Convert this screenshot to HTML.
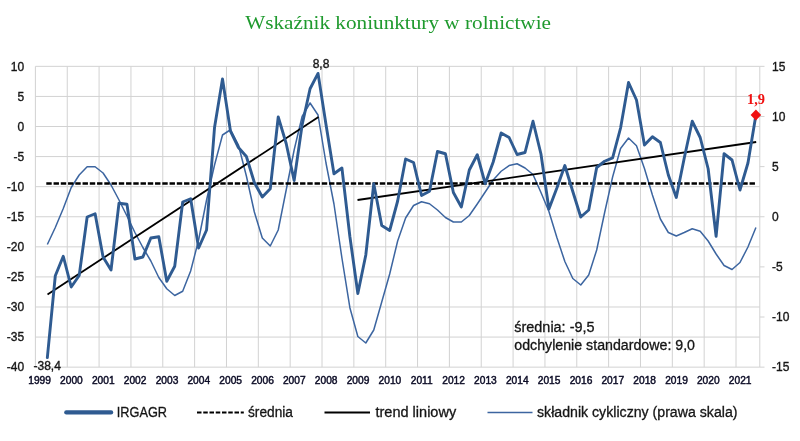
<!DOCTYPE html>
<html><head><meta charset="utf-8"><title>Wskaźnik koniunktury w rolnictwie</title>
<style>
html,body{margin:0;padding:0;background:#fff;}
body{width:800px;height:441px;overflow:hidden;position:relative;font-family:"Liberation Sans",sans-serif;}
svg{position:absolute;left:0;top:0;display:block;}
.title{font-family:"Liberation Serif",serif;font-size:19px;fill:#1f9a2e;}
.ax text{font-family:"Liberation Sans",sans-serif;font-size:12px;fill:#161616;stroke:#161616;stroke-width:0.35;}
.xl text{font-family:"Liberation Sans",sans-serif;font-size:10.2px;fill:#0c0c26;stroke:#0c0c26;stroke-width:0.45;}
.grid line{stroke:#d2d2d2;stroke-width:1;}
.note{font-family:"Liberation Sans",sans-serif;font-size:14px;fill:#151515;stroke:#151515;stroke-width:0.3;}
.leg{font-family:"Liberation Sans",sans-serif;font-size:14px;}
.leg text{fill:#151515;stroke:#151515;stroke-width:0.3;}
</style></head><body>
<svg width="800" height="441" viewBox="0 0 800 441">
<rect width="800" height="441" fill="#fff"/>
<text class="title" x="245.2" y="28.8" textLength="305.8" lengthAdjust="spacingAndGlyphs">Wskaźnik koniunktury w rolnictwie</text>
<g class="grid"><line x1="35.4" y1="66.35" x2="759.8" y2="66.35"/><line x1="35.4" y1="96.43" x2="759.8" y2="96.43"/><line x1="35.4" y1="126.51" x2="759.8" y2="126.51"/><line x1="35.4" y1="156.59" x2="759.8" y2="156.59"/><line x1="35.4" y1="186.67" x2="759.8" y2="186.67"/><line x1="35.4" y1="216.75" x2="759.8" y2="216.75"/><line x1="35.4" y1="246.83" x2="759.8" y2="246.83"/><line x1="35.4" y1="276.91" x2="759.8" y2="276.91"/><line x1="35.4" y1="306.99" x2="759.8" y2="306.99"/><line x1="35.4" y1="337.07" x2="759.8" y2="337.07"/><line x1="35.4" y1="367.15" x2="759.8" y2="367.15"/><line x1="35.40" y1="66.35" x2="35.40" y2="367.15"/><line x1="67.25" y1="66.35" x2="67.25" y2="367.15"/><line x1="99.09" y1="66.35" x2="99.09" y2="367.15"/><line x1="130.94" y1="66.35" x2="130.94" y2="367.15"/><line x1="162.78" y1="66.35" x2="162.78" y2="367.15"/><line x1="194.63" y1="66.35" x2="194.63" y2="367.15"/><line x1="226.48" y1="66.35" x2="226.48" y2="367.15"/><line x1="258.32" y1="66.35" x2="258.32" y2="367.15"/><line x1="290.17" y1="66.35" x2="290.17" y2="367.15"/><line x1="322.01" y1="66.35" x2="322.01" y2="367.15"/><line x1="353.86" y1="66.35" x2="353.86" y2="367.15"/><line x1="385.71" y1="66.35" x2="385.71" y2="367.15"/><line x1="417.55" y1="66.35" x2="417.55" y2="367.15"/><line x1="449.40" y1="66.35" x2="449.40" y2="367.15"/><line x1="481.24" y1="66.35" x2="481.24" y2="367.15"/><line x1="513.09" y1="66.35" x2="513.09" y2="367.15"/><line x1="544.94" y1="66.35" x2="544.94" y2="367.15"/><line x1="576.78" y1="66.35" x2="576.78" y2="367.15"/><line x1="608.63" y1="66.35" x2="608.63" y2="367.15"/><line x1="640.47" y1="66.35" x2="640.47" y2="367.15"/><line x1="672.32" y1="66.35" x2="672.32" y2="367.15"/><line x1="704.17" y1="66.35" x2="704.17" y2="367.15"/><line x1="736.01" y1="66.35" x2="736.01" y2="367.15"/><line x1="759.8" y1="66.35" x2="759.8" y2="367.15"/><line x1="759.8" y1="66.35" x2="764.5" y2="66.35"/><line x1="759.8" y1="116.48" x2="764.5" y2="116.48"/><line x1="759.8" y1="166.62" x2="764.5" y2="166.62"/><line x1="759.8" y1="216.75" x2="764.5" y2="216.75"/><line x1="759.8" y1="266.88" x2="764.5" y2="266.88"/><line x1="759.8" y1="317.01" x2="764.5" y2="317.01"/><line x1="759.8" y1="367.15" x2="764.5" y2="367.15"/></g>
<g class="ax"><text x="24.2" y="70.5" text-anchor="end">10</text><text x="24.2" y="100.6" text-anchor="end">5</text><text x="24.2" y="130.7" text-anchor="end">0</text><text x="24.2" y="160.8" text-anchor="end">-5</text><text x="24.2" y="190.9" text-anchor="end">-10</text><text x="24.2" y="220.9" text-anchor="end">-15</text><text x="24.2" y="251.0" text-anchor="end">-20</text><text x="24.2" y="281.1" text-anchor="end">-25</text><text x="24.2" y="311.2" text-anchor="end">-30</text><text x="24.2" y="341.3" text-anchor="end">-35</text><text x="24.2" y="371.3" text-anchor="end">-40</text><text x="772" y="70.5">15</text><text x="772" y="120.7">10</text><text x="772" y="170.8">5</text><text x="772" y="220.9">0</text><text x="772" y="271.1">-5</text><text x="772" y="321.2">-10</text><text x="772" y="371.3">-15</text></g>
<g class="xl"><text x="39.6" y="384.2" text-anchor="middle">1999</text><text x="71.4" y="384.2" text-anchor="middle">2000</text><text x="103.3" y="384.2" text-anchor="middle">2001</text><text x="135.1" y="384.2" text-anchor="middle">2002</text><text x="167.0" y="384.2" text-anchor="middle">2003</text><text x="198.8" y="384.2" text-anchor="middle">2004</text><text x="230.7" y="384.2" text-anchor="middle">2005</text><text x="262.5" y="384.2" text-anchor="middle">2006</text><text x="294.3" y="384.2" text-anchor="middle">2007</text><text x="326.2" y="384.2" text-anchor="middle">2008</text><text x="358.0" y="384.2" text-anchor="middle">2009</text><text x="389.9" y="384.2" text-anchor="middle">2010</text><text x="421.7" y="384.2" text-anchor="middle">2011</text><text x="453.6" y="384.2" text-anchor="middle">2012</text><text x="485.4" y="384.2" text-anchor="middle">2013</text><text x="517.3" y="384.2" text-anchor="middle">2014</text><text x="549.1" y="384.2" text-anchor="middle">2015</text><text x="581.0" y="384.2" text-anchor="middle">2016</text><text x="612.8" y="384.2" text-anchor="middle">2017</text><text x="644.7" y="384.2" text-anchor="middle">2018</text><text x="676.5" y="384.2" text-anchor="middle">2019</text><text x="708.3" y="384.2" text-anchor="middle">2020</text><text x="740.2" y="384.2" text-anchor="middle">2021</text></g>
<polyline points="47.34,244.50 55.30,227.50 63.27,208.50 71.23,187.50 79.19,175.00 87.15,166.75 95.11,166.75 103.07,173.00 111.03,185.00 119.00,200.00 126.96,216.00 134.92,232.50 142.88,247.50 150.84,261.00 158.80,277.50 166.76,288.75 174.73,295.50 182.69,291.25 190.65,271.00 198.61,240.00 206.57,200.00 214.53,165.00 222.50,135.00 230.46,129.75 238.42,145.00 246.38,176.00 254.34,212.00 262.30,238.00 270.26,246.00 278.23,230.00 286.19,190.00 294.15,150.00 302.11,116.50 310.07,103.00 318.03,115.00 325.99,163.00 333.96,204.00 341.92,258.00 349.88,307.70 357.84,336.50 365.80,343.00 373.76,330.00 381.73,302.00 389.69,274.00 397.65,241.00 405.61,218.00 413.57,205.50 421.53,201.75 429.49,203.75 437.46,210.00 445.42,217.50 453.38,222.00 461.34,222.00 469.30,215.50 477.26,204.00 485.22,192.00 493.19,180.00 501.15,171.25 509.11,165.60 517.07,163.75 525.03,168.00 532.99,174.50 540.96,192.50 548.92,211.50 556.88,237.50 564.84,261.50 572.80,278.50 580.76,285.00 588.72,275.00 596.69,250.00 604.65,212.50 612.61,177.00 620.57,148.50 628.53,138.00 636.49,145.80 644.45,168.50 652.42,195.00 660.38,219.00 668.34,232.50 676.30,236.00 684.26,232.50 692.22,228.75 700.19,231.25 708.15,241.00 716.11,254.00 724.07,265.50 732.03,269.50 739.99,262.50 747.95,247.00 755.92,227.50" fill="none" stroke="#3c65a0" stroke-width="1.5" stroke-linejoin="round"/>
<line x1="46.3" y1="183.5" x2="756" y2="183.5" stroke="#000" stroke-width="2.6" stroke-dasharray="5.4 1.85"/>
<line x1="47.5" y1="294.5" x2="318.5" y2="117" stroke="#000" stroke-width="1.8"/>
<line x1="357.5" y1="200" x2="756.2" y2="142" stroke="#000" stroke-width="1.8"/>
<polyline points="47.34,357.60 55.30,275.75 63.27,256.25 71.23,287.00 79.19,275.50 87.15,217.00 95.11,213.75 103.07,257.00 111.03,270.00 119.00,203.20 126.96,204.20 134.92,259.00 142.88,257.00 150.84,238.00 158.80,236.75 166.76,281.25 174.73,266.25 182.69,202.00 190.65,198.75 198.61,248.00 206.57,230.00 214.53,127.50 222.50,79.00 230.46,131.00 238.42,147.50 246.38,156.50 254.34,182.50 262.30,197.00 270.26,188.75 278.23,117.00 286.19,143.50 294.15,180.50 302.11,125.00 310.07,88.75 318.03,73.40 325.99,124.50 333.96,173.75 341.92,168.00 349.88,236.50 357.84,293.50 365.80,255.00 373.76,183.75 381.73,225.50 389.69,230.50 397.65,201.00 405.61,159.00 413.57,162.50 421.53,195.50 429.49,191.25 437.46,151.50 445.42,153.75 453.38,192.50 461.34,207.00 469.30,170.00 477.26,154.75 485.22,183.75 493.19,162.00 501.15,133.00 509.11,137.50 517.07,154.50 525.03,152.50 532.99,121.25 540.96,154.00 548.92,209.00 556.88,188.00 564.84,165.50 572.80,191.50 580.76,217.00 588.72,210.00 596.69,167.50 604.65,161.25 612.61,157.80 620.57,128.00 628.53,82.50 636.49,100.00 644.45,145.00 652.42,136.75 660.38,142.50 668.34,175.00 676.30,197.50 684.26,158.00 692.22,121.25 700.19,137.50 708.15,168.75 716.11,236.25 724.07,153.75 732.03,160.00 739.99,190.00 747.95,163.00 755.92,115.00" fill="none" stroke="#2f5b91" stroke-width="2.9" stroke-linejoin="round" stroke-linecap="round"/>
<path d="M755.9 109.6 L761.2 115 L755.9 120.4 L750.6 115 Z" fill="#f01010"/>
<g class="ax">
<text x="321" y="68.2" text-anchor="middle">8,8</text>
<text x="33.5" y="370.2" >-38,4</text>
</g>
<text x="747" y="104.2" textLength="18" lengthAdjust="spacingAndGlyphs" font-family="Liberation Serif,serif" font-weight="bold" font-size="14" fill="#f01010">1,9</text>
<g class="note">
<text x="514.3" y="332.4" textLength="80.2" lengthAdjust="spacingAndGlyphs">średnia: -9,5</text>
<text x="514.3" y="350" textLength="180.7" lengthAdjust="spacingAndGlyphs">odchylenie standardowe: 9,0</text>
</g>
<g class="leg">
<line x1="66.3" y1="412.4" x2="111.1" y2="412.4" stroke="#2f5b91" stroke-width="4.3" stroke-linecap="round"/>
<text x="116.8" y="416.8" textLength="50.2" lengthAdjust="spacingAndGlyphs">IRGAGR</text>
<line x1="197" y1="412.5" x2="243.8" y2="412.5" stroke="#000" stroke-width="2" stroke-dasharray="4.5 1.75"/>
<text x="248" y="416.8" textLength="45" lengthAdjust="spacingAndGlyphs">średnia</text>
<line x1="324.5" y1="412.5" x2="370" y2="412.5" stroke="#000" stroke-width="2"/>
<text x="375.5" y="416.8" textLength="80.7" lengthAdjust="spacingAndGlyphs">trend liniowy</text>
<line x1="487.5" y1="412.5" x2="532.5" y2="412.5" stroke="#3c65a0" stroke-width="1.3"/>
<text x="537" y="416.8" textLength="200.5" lengthAdjust="spacingAndGlyphs">składnik cykliczny (prawa skala)</text>
</g>
</svg>
</body></html>
